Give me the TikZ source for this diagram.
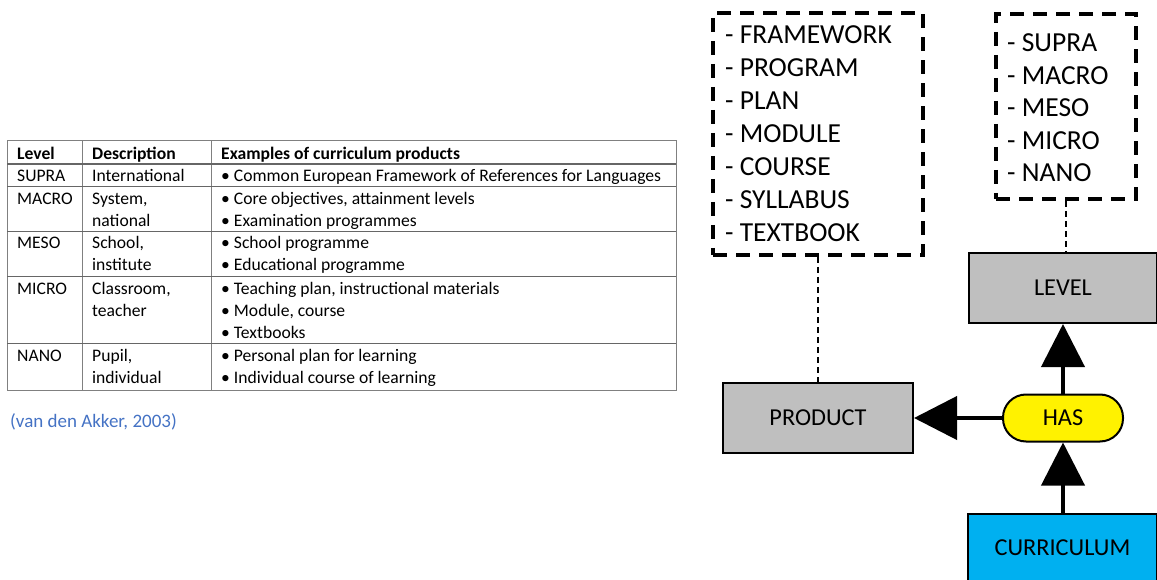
\documentclass[tikz,border=0pt]{standalone}
\usepackage{fontspec}
\setmainfont{Carlito}
\usetikzlibrary{arrows.meta}

\definecolor{boxgray}{HTML}{BFBFBF}
\definecolor{skyblue}{HTML}{00B0F0}
\definecolor{citeblue}{HTML}{4472C4}
\definecolor{rulegray}{HTML}{808080}

\tikzset{
  cell/.style={anchor=base west, inner sep=0pt, font=\fontsize{17.6}{21}\selectfont},
  headcell/.style={cell, font=\fontsize{17.6}{21}\selectfont\bfseries},
  outerrule/.style={draw=rulegray, line width=1pt},
  innerrule/.style={draw=rulegray!80!black, line width=1.4pt},
  listbox/.style={draw, line width=4pt, dash pattern=on 14pt off 9pt, minimum width=#1, inner sep=0pt},
  listitem/.style={anchor=base west, inner sep=0pt, font=\fontsize{27.5}{32}\selectfont},
  entity/.style={draw, line width=2pt, fill=boxgray, inner sep=0pt, font=\fontsize{24.3}{28}\selectfont},
  relation/.style={draw, line width=2pt, fill=yellow, rounded corners=23pt, inner sep=0pt,
                   minimum width=120pt, minimum height=47pt, font=\fontsize{24.3}{28}\selectfont},
  link/.style={line width=1.6pt, dash pattern=on 6pt off 4pt},
  rel/.style={line width=4pt, -{Triangle[length=43pt, width=43pt]}}
}

\begin{document}
\begin{tikzpicture}[x=1pt, y=-1pt]
\useasboundingbox (0,0) rectangle (1157,580);

% ---- table of curriculum levels ----
\draw[outerrule] (7,141) rectangle (676,390);
\draw[outerrule] (82,141) -- (82,390);
\draw[outerrule] (211,141) -- (211,390);
\foreach \yy in {164,186.5,231.5,276.5,343.5}
  \draw[innerrule] (7,\yy) -- (676,\yy);

\node[headcell] (hlevel) at (17,159.5) {Level};
\node[headcell] (hdesc) at (92,159.5) {Description};
\node[headcell] (hex) at (221,159.5) {Examples of curriculum products};

\node[cell] (l1) at (17,182) {SUPRA};
\node[cell] (d1) at (92,182) {International};
\node[cell] (e1) at (221,182) {• Common European Framework of References for Languages};

\node[cell] (l2) at (17,204.5) {MACRO};
\node[cell] (d2a) at (92,204.5) {System,};
\node[cell] (d2b) at (92,227) {national};
\node[cell] (e2a) at (221,204.5) {• Core objectives, attainment levels};
\node[cell] (e2b) at (221,227) {• Examination programmes};

\node[cell] (l3) at (17,249) {MESO};
\node[cell] (d3a) at (92,249) {School,};
\node[cell] (d3b) at (92,271) {institute};
\node[cell] (e3a) at (221,249) {• School programme};
\node[cell] (e3b) at (221,271) {• Educational programme};

\node[cell] (l4) at (17,294.5) {MICRO};
\node[cell] (d4a) at (92,294.5) {Classroom,};
\node[cell] (d4b) at (92,316.5) {teacher};
\node[cell] (e4a) at (221,294.5) {• Teaching plan, instructional materials};
\node[cell] (e4b) at (221,316.5) {• Module, course};
\node[cell] (e4c) at (221,338) {• Textbooks};

\node[cell] (l5) at (17,361.5) {NANO};
\node[cell] (d5a) at (92,361.5) {Pupil,};
\node[cell] (d5b) at (92,383.5) {individual};
\node[cell] (e5a) at (221,361.5) {• Personal plan for learning};
\node[cell] (e5b) at (221,383.5) {• Individual course of learning};

\node[anchor=base west, inner sep=0pt, text=citeblue, font=\fontsize{19}{22}\selectfont]
  (cite) at (10,427) {(van den Akker, 2003)};

% ---- concept diagram ----
\node[listbox=210pt, minimum height=242pt] (products) at (818,134) {};
\foreach \t [count=\i] in {FRAMEWORK, PROGRAM, PLAN, MODULE, COURSE, SYLLABUS, TEXTBOOK}
  \node[listitem] (p\i) at (725, {44+33*(\i-1)}) {- \t};

\node[listbox=140pt, minimum height=185pt] (levels) at (1066,106.5) {};
\foreach \t [count=\i] in {SUPRA, MACRO, MESO, MICRO, NANO}
  \node[listitem] (v\i) at (1007, {52+32.5*(\i-1)}) {- \t};

\node[entity, minimum width=190pt, minimum height=70pt] (product) at (818,418) {PRODUCT};
\node[entity, minimum width=188pt, minimum height=70pt] (level) at (1063,288) {LEVEL};
\node[entity, fill=skyblue, minimum width=189pt, minimum height=68pt] (curriculum) at (1062.5,548) {CURRICULUM};
\node[relation] (has) at (1063,418) {HAS};

\draw[link] (products.south) -- (product.north);
\draw[link] (levels.south) -- (levels.south |- level.north);

\draw[rel] (has.west) -- (product.east);
\draw[rel] (has.north) -- (level.south);
\draw[rel] (curriculum.north -| has.south) -- (has.south);
\end{tikzpicture}
\end{document}
